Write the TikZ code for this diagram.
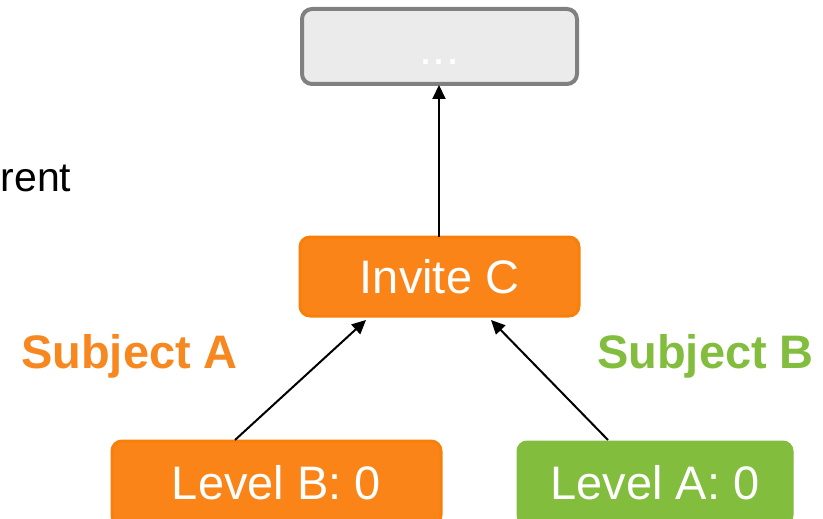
\documentclass[tikz,border=0pt]{standalone}
\usepackage{fontspec}
\setmainfont{Liberation Sans}
\usetikzlibrary{arrows.meta}
\definecolor{orfill}{HTML}{FA8418}
\definecolor{ordraw}{HTML}{F77F0A}
\definecolor{grfill}{HTML}{82BD3E}
\definecolor{gyfill}{HTML}{EBEBEB}
\definecolor{gydraw}{HTML}{808080}
\definecolor{suba}{HTML}{F7871F}
\definecolor{subb}{HTML}{82BD3E}
\tikzset{
  bigtext/.style={font=\fontsize{47}{56}\selectfont},
  obox/.style={rounded corners=10pt, fill=orfill, draw=ordraw, line width=3pt, text=white, bigtext, inner sep=0pt},
  gbox/.style={rounded corners=10pt, fill=grfill, draw=grfill, line width=1pt, text=white, bigtext, inner sep=0pt},
  topbox/.style={rounded corners=10pt, fill=gyfill, draw=gydraw, line width=4pt, inner sep=0pt},
  conn/.style={line width=2pt, -{Triangle[length=14pt,width=13pt]}},
  subj/.style={font=\fontsize{47}{56}\selectfont\bfseries, inner sep=0pt, anchor=base west}
}
\begin{document}
\begin{tikzpicture}[x=1pt,y=-1pt]
\useasboundingbox (0,0) rectangle (823,519);
\clip (0,0) rectangle (823,519);
\node[topbox, minimum width=275pt, minimum height=75pt] (top) at (439.5,46.5) {};
\node[text=white, bigtext, inner sep=0pt, anchor=base] (dots) at (439.5,64.5) {...};
\node[obox, minimum width=279pt, minimum height=79pt] (invite) at (439.5,276.5) {Invite C};
\node[obox, minimum width=329pt, minimum height=84pt] (lvb) at (276.5,483) {Level B: 0};
\node[gbox, minimum width=276pt, minimum height=84pt] (lva) at (655,483) {Level A: 0};
\node[subj, text=suba] (sa) at (21,368) {Subject A};
\node[subj, text=subb] (sb) at (597,368) {Subject B};
\node[inner sep=0pt, anchor=base west, font=\fontsize{41}{49}\selectfont] (rent) at (0.5,191) {rent};
\coordinate (ib) at (439,237);
\coordinate (tb) at (439,85);
\draw[conn] (ib) -- (tb);
\coordinate (b1) at (235,440);
\coordinate (b2) at (366,320);
\draw[conn] (b1) -- (b2);
\coordinate (a1) at (608,440);
\coordinate (a2) at (491,320);
\draw[conn] (a1) -- (a2);
\end{tikzpicture}
\end{document}
